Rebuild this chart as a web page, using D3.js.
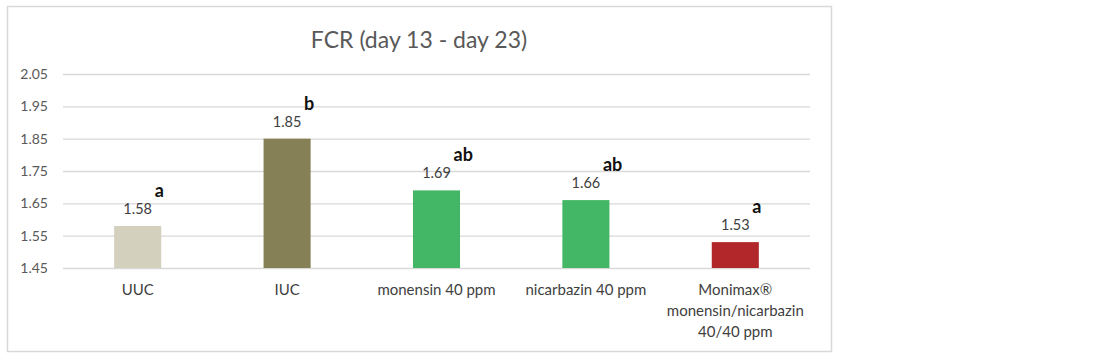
<!DOCTYPE html>
<html>
<head>
<meta charset="utf-8">
<script src="https://cdn.jsdelivr.net/npm/d3@7"></script>
<style>
  body { margin: 0; background: #fff; }
  text { font-family: Lato, "Open Sans", sans-serif; }
</style>
</head>
<body>
<script>
var width = 1100, height = 361;

// data
var categories = ["UUC", "IUC", "monensin 40 ppm", "nicarbazin 40 ppm", "Monimax® monensin/nicarbazin 40/40 ppm"];
var catLines = [["UUC"], ["IUC"], ["monensin 40 ppm"], ["nicarbazin 40 ppm"], ["Monimax®", "monensin/nicarbazin", "40/40 ppm"]];
var fcr = [1.58, 1.85, 1.69, 1.66, 1.53];
var letters = ["a", "b", "ab", "ab", "a"];
var barColors = ["#d3d0bd", "#858055", "#43b765", "#43b765", "#b1272a"];
var yTicks = [1.45, 1.55, 1.65, 1.75, 1.85, 1.95, 2.05];

var margin = {left: 63, right: 290, top: 74, bottom: 93};

var svg = d3.select("body").append("svg")
    .attr("width", width)
    .attr("height", height);

// chart frame
svg.append("rect")
    .attr("x", 7.5).attr("y", 6.5)
    .attr("width", 824).attr("height", 345)
    .style("fill", "white")
    .style("stroke", "#d9d9d9")
    .style("stroke-width", 1.5);

svg.append("text")
    .attr("x", 419).attr("y", 48)
    .attr("text-anchor", "middle")
    .style("font-size", "23px")
    .style("fill", "#595959")
    .text("FCR (day 13 - day 23)");

var x = d3.scaleBand()
    .domain(categories)
    .range([margin.left, width - margin.right])
    .paddingInner(0.685)
    .paddingOuter(0.3425);

var y = d3.scaleLinear()
    .domain([1.45, 2.05])
    .range([height - margin.bottom, margin.top]);

// gridlines + tick labels
var yAxis = svg.append("g")
    .attr("transform", "translate(" + margin.left + ",0)")
    .call(d3.axisLeft(y).tickValues(yTicks).tickFormat(d3.format(".2f"))
        .tickSize(-(width - margin.right - margin.left)).tickPadding(15));
yAxis.select(".domain").remove();
yAxis.selectAll(".tick line").style("stroke", "#d9d9d9").style("stroke-width", 1.3);
yAxis.selectAll(".tick text").style("font-size", "14px").style("fill", "#595959")
    .style("font-family", "Lato, sans-serif");

var bars = svg.selectAll(".bar")
    .data(categories)
    .enter().append("g");

bars.append("rect")
    .attr("x", function(d) { return x(d); })
    .attr("width", x.bandwidth())
    .attr("y", function(d, i) { return y(fcr[i]); })
    .attr("height", function(d, i) { return y(1.45) - y(fcr[i]); })
    .style("fill", function(d, i) { return barColors[i]; });

bars.append("text")
    .attr("x", function(d) { return x(d) + x.bandwidth() / 2; })
    .attr("y", function(d, i) { return y(fcr[i]) - 12; })
    .attr("text-anchor", "middle")
    .style("font-size", "14.5px")
    .style("fill", "#404040")
    .text(function(d, i) { return fcr[i].toFixed(2); });

bars.append("text")
    .attr("x", function(d) { return x(d) + x.bandwidth() / 2 + 17; })
    .attr("y", function(d, i) { return y(fcr[i]) - 29; })
    .style("font-size", "18px")
    .style("font-weight", "bold")
    .style("fill", "#111")
    .text(function(d, i) { return letters[i]; });

// category labels
var xl = svg.selectAll(".xlab")
    .data(categories)
    .enter().append("text")
    .attr("text-anchor", "middle")
    .attr("transform", function(d) { return "translate(" + (x(d) + x.bandwidth() / 2) + ",295)"; })
    .style("font-size", "15px")
    .style("fill", "#404040");

xl.selectAll("tspan")
    .data(function(d, i) { return catLines[i]; })
    .enter().append("tspan")
    .attr("x", 0)
    .attr("dy", function(d, j) { return j === 0 ? 0 : 21; })
    .text(function(d) { return d; });
</script>
</body>
</html>
